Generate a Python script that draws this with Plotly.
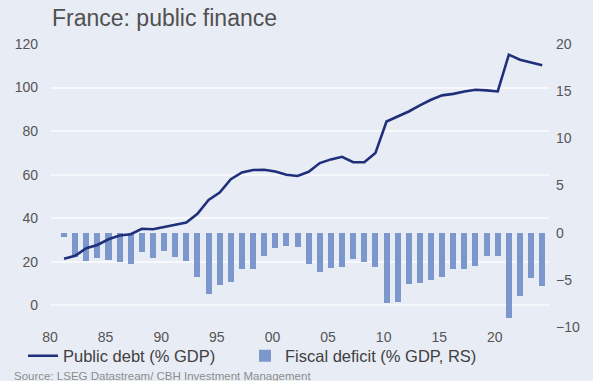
import plotly.graph_objects as go

years = list(range(1980, 2024))
public_debt = [21.4, 22.7, 26.2, 27.7, 30.3, 32.0, 32.6, 35.1, 34.9, 35.9,
               37.1, 38.0, 42.0, 48.4, 51.8, 57.9, 61.0, 62.1, 62.2, 61.4,
               59.9, 59.4, 61.3, 65.3, 67.0, 68.2, 65.7, 65.7, 69.9, 84.4,
               86.7, 89.0, 91.8, 94.4, 96.4, 97.1, 98.2, 99.0, 98.7, 98.2,
               115.1, 112.8, 111.5, 110.2]
fiscal_deficit = [-0.5, -2.6, -3.0, -2.7, -2.9, -3.1, -3.3, -2.0, -2.7, -1.9,
                  -2.6, -3.0, -4.7, -6.5, -5.6, -5.2, -3.9, -3.8, -2.5, -1.6,
                  -1.4, -1.5, -3.3, -4.2, -3.7, -3.6, -2.8, -3.1, -3.6, -7.5,
                  -7.3, -5.4, -5.3, -5.0, -4.7, -3.9, -3.9, -3.5, -2.5, -2.5,
                  -9.05, -6.7, -4.8, -5.7]
x_tick_years = [1980, 1985, 1990, 1995, 2000, 2005, 2010, 2015, 2020]
x_tick_labels = ["80", "85", "90", "95", "00", "05", "10", "15", "20"]
left_ticks = [0, 20, 40, 60, 80, 100, 120]
right_ticks = [-10, -5, 0, 5, 10, 15, 20]

BG = "#E8ECF5"
GRID = "#F6F8FC"
TXT = "#555555"
FONT = "Liberation Sans, Arial, sans-serif"

fig = go.Figure()
fig.add_trace(go.Bar(
    x=years, y=fiscal_deficit, name="Fiscal deficit (% GDP, RS)",
    marker=dict(color="#7B97CC", line=dict(width=0)),
    width=0.54, yaxis="y", legend="legend2",
))
fig.add_trace(go.Scatter(
    x=years, y=public_debt, name="Public debt (% GDP)", mode="lines",
    line=dict(color="#1F2F7A", width=2.6), yaxis="y2", legend="legend",
))

leg_common = dict(orientation="h", xanchor="left", y=(326-355)/283, yanchor="middle",
                  bgcolor="rgba(0,0,0,0)",
                  font=dict(size=16.5, color="#404040", family=FONT))

fig.update_layout(
    width=593, height=381,
    margin=dict(l=51, r=44, t=44, b=54, autoexpand=False),
    paper_bgcolor=BG, plot_bgcolor=BG,
    font=dict(family=FONT, color=TXT, size=14),
    title=dict(text="France: public finance", x=52/593, xanchor="left",
               y=1-18/381, yanchor="middle", yref="container",
               font=dict(size=23, color="#505050", family=FONT)),
    xaxis=dict(range=[1978.83, 2023.61], tickvals=x_tick_years, ticktext=x_tick_labels,
               showgrid=False, zeroline=False, showline=False, ticks="",
               ticklabelshift=-14, ticklabelstandoff=0,
               tickfont=dict(size=14, color=TXT)),
    yaxis=dict(range=[-10, 20], side="right", tickvals=right_ticks,
               showgrid=False, zeroline=False, showline=False, ticks="",
               ticklabelstandoff=6, tickfont=dict(size=14, color=TXT)),
    yaxis2=dict(range=[-10, 120], side="left", overlaying="y", tickvals=left_ticks,
                showgrid=True, gridcolor=GRID, gridwidth=1.5, zeroline=False,
                showline=False, ticks="", ticklabelstandoff=12,
                tickfont=dict(size=14, color=TXT)),
    bargap=0,
    showlegend=True,
    legend=dict(x=(23-51)/498, **leg_common),
    legend2=dict(x=(245-51)/498, **leg_common),
    annotations=[dict(text="Source: LSEG Datastream/ CBH Investment Management",
                      xref="paper", yref="paper", x=(12-51)/498, xanchor="left",
                      y=(326-367)/283, yanchor="top", showarrow=False,
                      font=dict(size=11.5, color="#8C8C8C", family=FONT))],
)

fig.write_html("out.html")
